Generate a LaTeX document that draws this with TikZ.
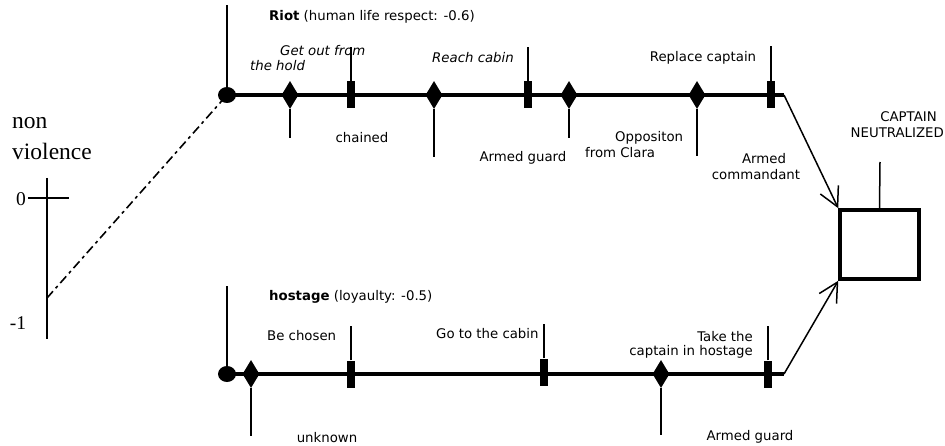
\documentclass[tikz,border=0pt]{standalone}
\usepackage{fontspec}
\setmainfont{DejaVu Sans}
\newfontfamily\serifo{Liberation Serif}
\usetikzlibrary{shapes.geometric,arrows.meta}
\begin{document}
\begin{tikzpicture}[x=1pt,y=-1pt,
  mainline/.style={line width=3.6pt},
  thinline/.style={line width=1.5pt},
  conn/.style={line width=1.5pt,-{Straight Barb[length=19pt,width=20pt,line width=1.5pt]}},
  dmark/.style={diamond,fill=black,draw=none,minimum width=17pt,minimum height=28pt,inner sep=0pt},
  rmark/.style={rectangle,fill=black,draw=none,minimum width=7.5pt,minimum height=27pt,inner sep=0pt},
  startdot/.style={ellipse,fill=black,draw=none,minimum width=18pt,minimum height=16pt,inner sep=0pt},
  lab/.style={font=\fontsize{13.3}{15}\selectfont,inner sep=0pt},
  ilab/.style={font=\fontsize{13.3}{15}\selectfont\itshape,inner sep=0pt},
  serlab/.style={font=\serifo\fontsize{23.5}{27}\selectfont,inner sep=0pt},
  numlab/.style={font=\serifo\fontsize{19.5}{22}\selectfont,inner sep=0pt}]
\useasboundingbox (0,0) rectangle (945,446);

% ---- scale on the left
\coordinate (sTop) at (47,178);
\coordinate (sBot) at (47,339);
\coordinate (tickL) at (28,198);
\coordinate (tickR) at (69,198);
\coordinate (sMinus) at (47,298);
\draw[thinline] (sTop) -- (sBot);
\draw[thinline] (tickL) -- (tickR);
\node[serlab,anchor=west] (non) at (12,123) {non};
\node[serlab,anchor=west] (viol) at (12,151) {violence};
\node[numlab] (zero) at (21,199) {0};
\node[numlab] (mone) at (18,323) {-1};

% ---- top line (Riot)
\node[startdot] (c1) at (227,95) {};
\coordinate (tend) at (784,95);
\draw[mainline] (c1.center) -- (tend);
\coordinate (c1up) at (227,5);
\draw[thinline] (c1.center) -- (c1up);
\node[lab,anchor=west] (riot) at (269,17) {\textbf{Riot} (human life respect: -0.6)};

\node[dmark] (d1) at (290,95) {};
\coordinate (d1b) at (290,138);
\draw[thinline] (d1.south) -- (d1b);
\node[ilab,anchor=west] (gof1) at (280,51) {Get out from};
\node[ilab,anchor=west] (gof2) at (250,66) {the hold};

\node[rmark] (r1) at (351,95) {};
\coordinate (r1t) at (351,47);
\draw[thinline] (r1.north) -- (r1t);
\node[lab] (chained) at (362,138) {chained};

\node[dmark] (d2) at (434,95) {};
\coordinate (d2b) at (434,157);
\draw[thinline] (d2.south) -- (d2b);
\node[ilab] (reach) at (473,58) {Reach cabin};

\node[rmark] (r2) at (528,95) {};
\coordinate (r2t) at (528,47);
\draw[thinline] (r2.north) -- (r2t);
\node[lab] (ag1) at (523,158) {Armed guard};

\node[dmark] (d3) at (569,95) {};
\coordinate (d3b) at (569,138);
\draw[thinline] (d3.south) -- (d3b);
\node[lab,anchor=west] (opp1) at (615,138) {Oppositon};
\node[lab,anchor=west] (opp2) at (585,153) {from Clara};

\node[dmark] (d4) at (697,95) {};
\coordinate (d4b) at (697,156);
\draw[thinline] (d4.south) -- (d4b);
\node[lab] (repl) at (703,58) {Replace captain};

\node[rmark] (r3) at (771,95) {};
\coordinate (r3t) at (771,46);
\draw[thinline] (r3.north) -- (r3t);
\node[lab] (ac1) at (764,159) {Armed};
\node[lab] (ac2) at (756,175) {commandant};

% ---- box
\node[draw,line width=3.5pt,minimum width=79pt,minimum height=69pt,inner sep=0pt] (box) at (879.5,244.5) {};
\coordinate (boxup) at (880,162);
\draw[thinline] (box.north) -- (boxup);
\node[lab,anchor=east] (cap1) at (937,117) {CAPTAIN};
\node[lab,anchor=east] (cap2) at (944,133) {NEUTRALIZED};

\draw[conn] (tend) -- (box.north west);

% ---- bottom line (hostage)
\node[startdot] (c2) at (227,374) {};
\coordinate (bend) at (784,374);
\draw[mainline] (c2.center) -- (bend);
\coordinate (c2up) at (227,286);
\draw[thinline] (c2.center) -- (c2up);
\node[lab,anchor=west] (host) at (269,297) {\textbf{hostage} (loyaulty: -0.5)};

\node[dmark] (d5) at (251,374) {};
\coordinate (d5b) at (251,436);
\draw[thinline] (d5.south) -- (d5b);
\node[lab,anchor=west] (chosen) at (267,336) {Be chosen};
\node[lab] (unk) at (327,438) {unknown};

\node[rmark] (r4) at (351,374) {};
\coordinate (r4t) at (351,326);
\draw[thinline] (r4.north) -- (r4t);

\node[rmark] (r5) at (544,372) {};
\coordinate (r5t) at (544,324);
\draw[thinline] (r5.north) -- (r5t);
\node[lab,anchor=west] (gocab) at (436,334) {Go to the cabin};

\node[dmark] (d6) at (661,374) {};
\coordinate (d6b) at (661,435);
\draw[thinline] (d6.south) -- (d6b);
\node[lab,anchor=east] (take1) at (753,337) {Take the};
\node[lab,anchor=east] (take2) at (753,352) {captain in hostage};
\node[lab] (ag2) at (750,437) {Armed guard};

\node[rmark] (r6) at (768,374) {};
\coordinate (r6t) at (768,326);
\draw[thinline] (r6.north) -- (r6t);

\draw[conn] (bend) -- (box.south west);

% ---- dashed link
\draw[line width=1.6pt,dash pattern=on 9pt off 4pt on 3pt off 4pt] (sMinus) -- (c1.center);
\end{tikzpicture}
\end{document}
